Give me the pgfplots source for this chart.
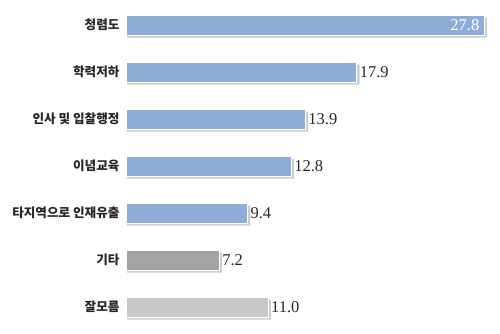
\documentclass[border=0pt]{standalone}
\usepackage{pgfplots}
\pgfplotsset{compat=1.18}
\usepackage{fontspec}
\setmainfont{Liberation Serif}
\newfontfamily\kr{Noto Sans CJK KR}
\definecolor{barblue}{RGB}{143,172,214}
\definecolor{bargray}{RGB}{163,163,163}
\definecolor{bargraylt}{RGB}{200,200,200}
\definecolor{shadow}{RGB}{205,205,205}
\begin{document}
\begin{tikzpicture}
\useasboundingbox (-127pt,0) rectangle (373pt,333pt);
\begin{axis}[
  at={(0,0)}, anchor=south west,
  scale only axis, width=373pt, height=333pt,
  xmin=0, xmax=29.03, ymin=-0.532, ymax=6.553,
  y dir=reverse,
  axis line style={draw=none},
  major tick length=0pt,
  xtick=\empty,
  ytick={0,1,2,3,4,5,6},
  yticklabels={청렴도,학력저하,인사 및 입찰행정,이념교육,타지역으로 인재유출,기타,잘모름},
  yticklabel style={font=\kr\bfseries\fontsize{12.6}{13}\selectfont, color=black!85, anchor=east, xshift=-4pt},
  xbar, bar width=20pt, bar shift=0pt,
  clip=false,
  nodes near coords style={font=\fontsize{16.5}{17}\selectfont, color=black!85},
]
% shadows
\addplot[xbar, bar shift=-2.5pt, fill=shadow, draw=none] coordinates {
 (28.0,0) (18.1,1) (14.1,2) (13.0,3) (9.6,4) (7.4,5) (11.2,6)};
% blue bars
\addplot[xbar, fill=barblue, draw=white, line width=1pt,
  nodes near coords, nodes near coords align={horizontal},
  point meta=explicit symbolic,
  every node near coord/.append style={anchor=west, xshift=-1pt}]
  coordinates {(17.9,1) [17.9] (13.9,2) [13.9] (12.8,3) [12.8] (9.4,4) [9.4]};
\addplot[xbar, fill=barblue, draw=white, line width=1pt,
  nodes near coords, point meta=explicit symbolic,
  every node near coord/.append style={anchor=east, xshift=-1pt, color=white}]
  coordinates {(27.8,0) [27.8]};
% gray bars
\addplot[xbar, fill=bargray, draw=white, line width=1pt,
  nodes near coords, point meta=explicit symbolic,
  every node near coord/.append style={anchor=west, xshift=-1pt}]
  coordinates {(7.2,5) [7.2]};
\addplot[xbar, fill=bargraylt, draw=white, line width=1pt,
  nodes near coords, point meta=explicit symbolic,
  every node near coord/.append style={anchor=west, xshift=-1pt}]
  coordinates {(11.0,6) [11.0]};
\end{axis}
\end{tikzpicture}
\end{document}
